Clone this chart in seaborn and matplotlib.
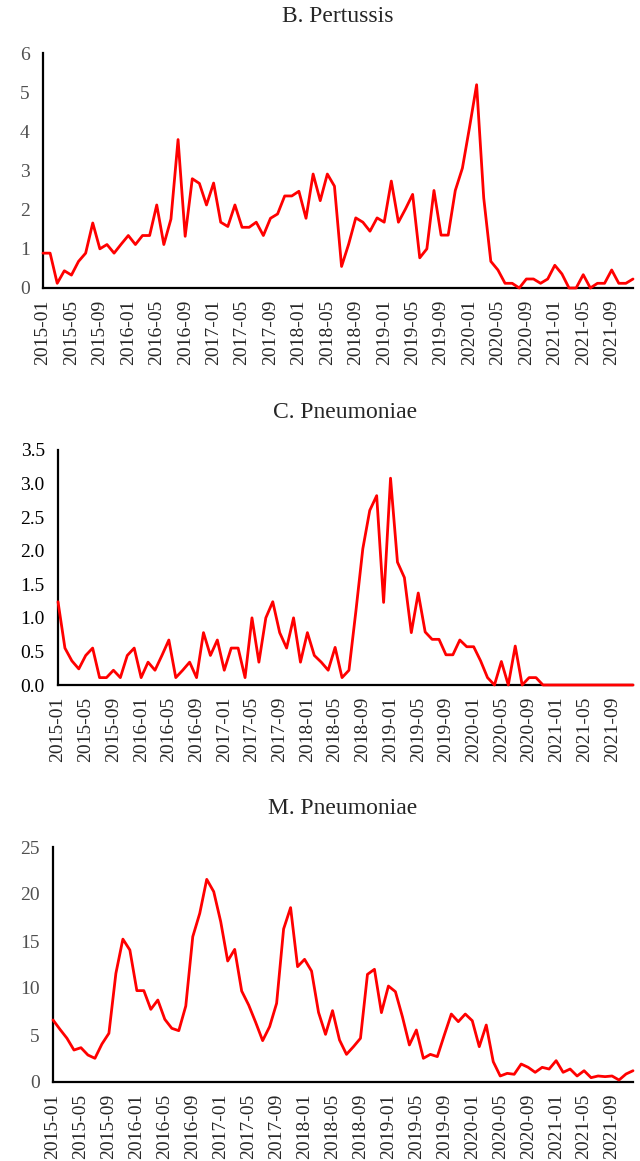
import pandas as pd
import matplotlib.pyplot as plt
import seaborn as sns

months = [p.strftime('%Y-%m') for p in pd.period_range('2015-01', '2021-12', freq='M')]

pertussis = [0.89, 0.89, 0.12, 0.44, 0.33, 0.68, 0.89, 1.66, 1.0, 1.11,
             0.89, 1.12, 1.34, 1.11, 1.34, 1.34, 2.12, 1.11, 1.76, 3.79,
             1.32, 2.79, 2.67, 2.12, 2.68, 1.68, 1.57, 2.12, 1.55, 1.55,
             1.68, 1.34, 1.78, 1.89, 2.35, 2.35, 2.47, 1.78, 2.91, 2.23,
             2.91, 2.6, 0.55, 1.12, 1.79, 1.68, 1.45, 1.79, 1.68, 2.73,
             1.68, 2.02, 2.39, 0.77, 1.0, 2.49, 1.35, 1.35, 2.49, 3.06,
             4.1, 5.19, 2.3, 0.68, 0.46, 0.12, 0.12, 0.0, 0.23, 0.23,
             0.12, 0.23, 0.58, 0.36, 0.0, 0.0, 0.34, 0.0, 0.12, 0.12,
             0.46, 0.12, 0.12, 0.23]

c_pneumoniae = [1.24, 0.55, 0.36, 0.24, 0.44, 0.55, 0.11, 0.11, 0.22, 0.11,
                0.44, 0.55, 0.11, 0.34, 0.22, 0.44, 0.67, 0.11, 0.22, 0.34,
                0.11, 0.78, 0.44, 0.67, 0.22, 0.55, 0.55, 0.11, 1.0, 0.34,
                1.0, 1.24, 0.78, 0.55, 1.0, 0.34, 0.78, 0.44, 0.34, 0.22,
                0.56, 0.11, 0.22, 1.1, 2.03, 2.6, 2.82, 1.23, 3.08, 1.83,
                1.6, 0.78, 1.37, 0.79, 0.68, 0.68, 0.45, 0.45, 0.67, 0.57,
                0.57, 0.36, 0.11, 0.0, 0.35, 0.0, 0.58, 0.0, 0.11, 0.11,
                0.0, 0.0, 0.0, 0.0, 0.0, 0.0, 0.0, 0.0, 0.0, 0.0,
                0.0, 0.0, 0.0, 0.0]

m_pneumoniae = [6.6, 5.6, 4.65, 3.4, 3.65, 2.87, 2.52, 4.04, 5.18, 11.56,
                15.2, 14.04, 9.72, 9.72, 7.73, 8.72, 6.67, 5.71, 5.46, 8.08,
                15.46, 17.94, 21.56, 20.25, 17.06, 12.87, 14.11, 9.68, 8.19, 6.35,
                4.4, 5.89, 8.37, 16.28, 18.55, 12.27, 13.05, 11.8, 7.4, 5.07,
                7.59, 4.47, 2.94, 3.76, 4.65, 11.45, 11.99, 7.38, 10.21, 9.61,
                6.95, 3.94, 5.53, 2.52, 2.94, 2.7, 5.0, 7.23, 6.42, 7.23,
                6.52, 3.76, 6.06, 2.16, 0.64, 0.92, 0.82, 1.91, 1.56, 1.03,
                1.56, 1.38, 2.27, 1.03, 1.38, 0.64, 1.2, 0.46, 0.64, 0.57,
                0.64, 0.21, 0.85, 1.2]

titles = ['B. Pertussis', 'C. Pneumoniae', 'M. Pneumoniae']
series = [pertussis, c_pneumoniae, m_pneumoniae]
y_max = [6, 3.5, 25]
y_step = [1, 0.5, 5]
y_fmt = ['{:.0f}', '{:.1f}', '{:.0f}']
y_color = ['#505050', 'black', '#505050']

sns.set_style('white')
plt.rcParams['font.family'] = ['Liberation Serif', 'DejaVu Serif']

W, H = 640, 1161
fig = plt.figure(figsize=(W / 100, H / 100), dpi=100)

# pixel boxes: left, top, bottom
boxes = [(43, 53, 288), (58, 450, 685), (53, 847, 1082)]
right = 633
title_y = [17, 413, 809]

for k in range(3):
    left, top, bottom = boxes[k]
    ax = fig.add_axes([left / W, 1 - bottom / H, (right - left) / W, (bottom - top) / H])
    df = pd.DataFrame({'idx': range(len(months)), 'value': series[k]})
    sns.lineplot(data=df, x='idx', y='value', ax=ax, color='#ff0000',
                 linewidth=2.0, clip_on=False, zorder=5)
    ax.set_xlim(0, len(months) - 1)
    ax.set_ylim(0, y_max[k])
    ticks = list(range(0, len(months), 4))
    ax.set_xticks(ticks)
    ax.set_xticklabels([months[i] for i in ticks], rotation=90, fontsize=14)
    yt = [y_step[k] * j for j in range(int(round(y_max[k] / y_step[k])) + 1)]
    ax.set_yticks(yt)
    ax.set_yticklabels([y_fmt[k].format(v) for v in yt], fontsize=14, color=y_color[k])
    ax.set_xlabel('')
    ax.set_ylabel('')
    for s in ['top', 'right']:
        ax.spines[s].set_visible(False)
    for s in ['left', 'bottom']:
        ax.spines[s].set_color('black')
        ax.spines[s].set_linewidth(1.6)
    ax.tick_params(axis='both', direction='out', length=4.5, width=1.6, color='black')
    ax.tick_params(axis='x', pad=4)
    ax.tick_params(axis='y', pad=5)
    fig.text((left + right) / 2 / W, 1 - title_y[k] / H, titles[k],
             ha='center', va='center', fontsize=17)

fig.savefig('out.png', dpi=100)
